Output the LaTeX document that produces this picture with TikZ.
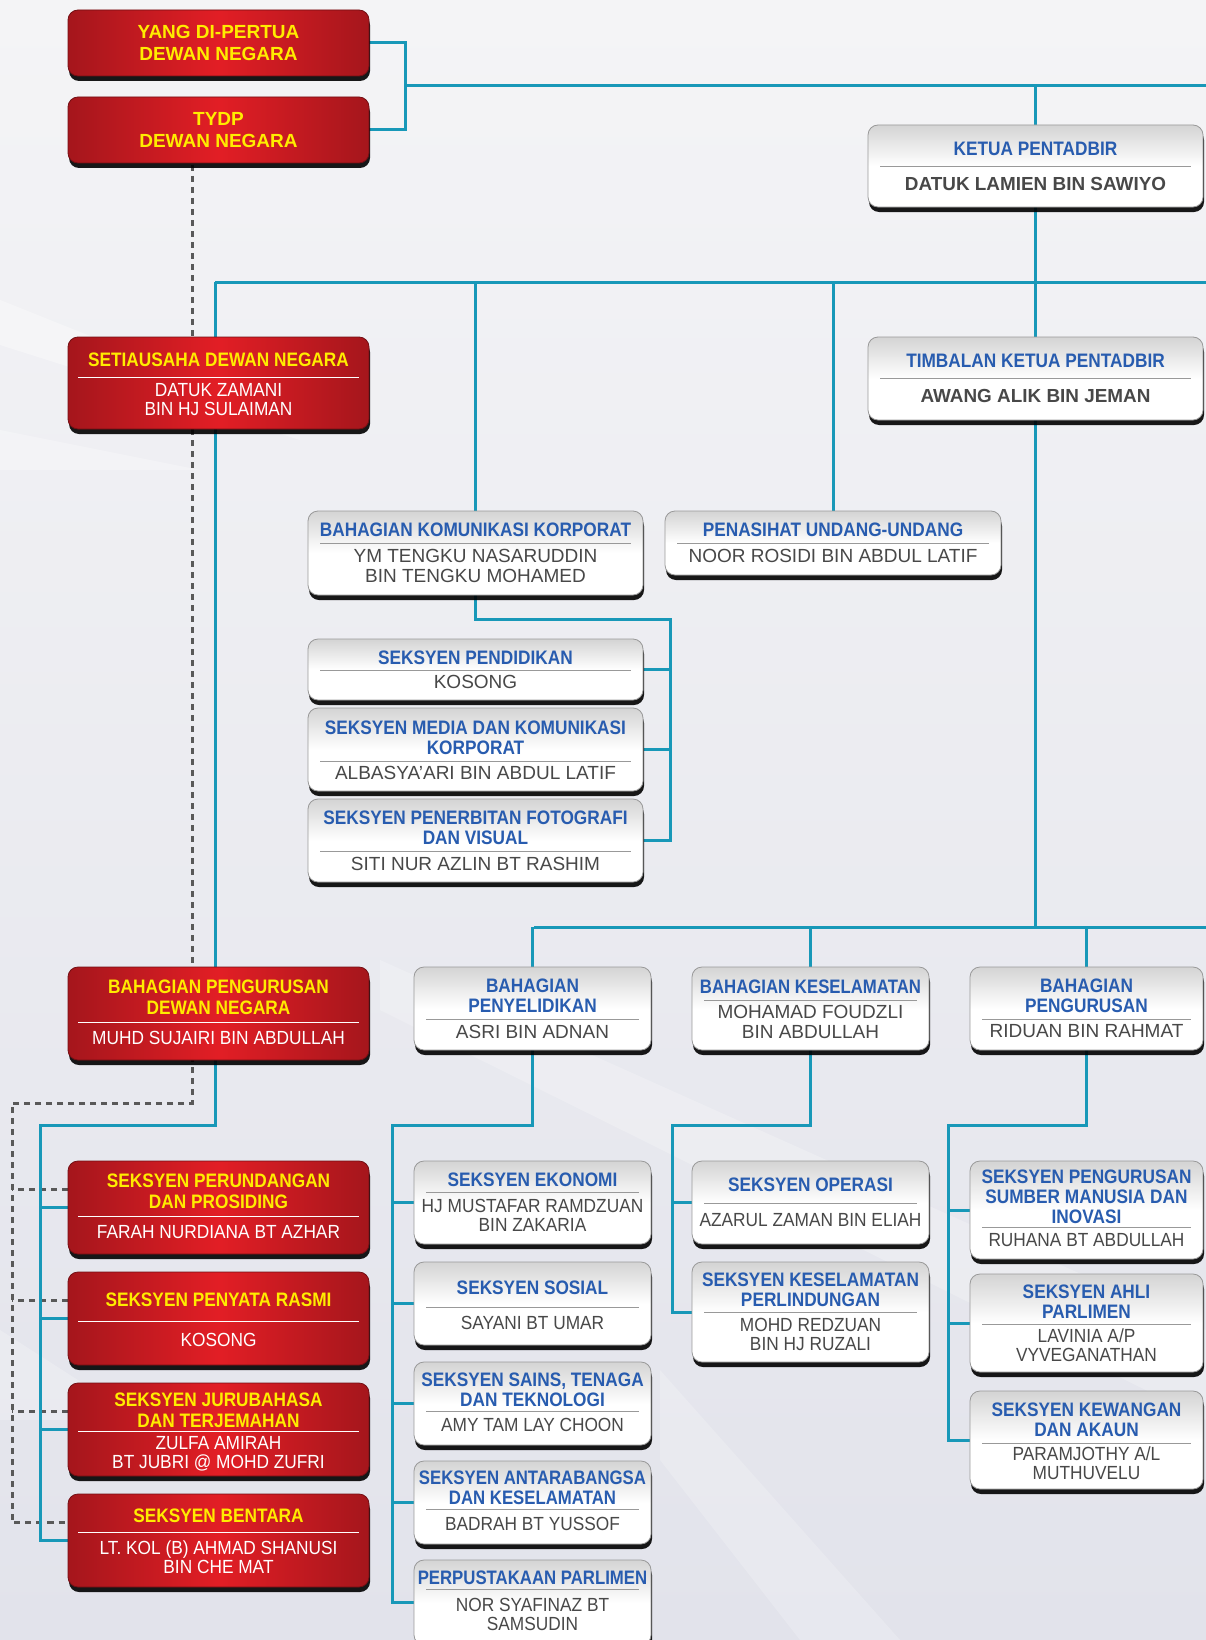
\documentclass[tikz,border=0pt]{standalone}
\usepackage{fontspec}
\setmainfont{Liberation Sans}
\newfontfamily\tfont[FakeStretch=0.885]{Liberation Sans}
\newfontfamily\tnar[FakeStretch=0.86]{Liberation Sans}
\newfontfamily\nfont[FakeStretch=0.91]{Liberation Sans}
\newcommand\nt{\tnar\bfseries}
\usetikzlibrary{shadows,calc}
\definecolor{tealc}{RGB}{24,152,184}
\definecolor{bluet}{RGB}{40,92,175}
\definecolor{grayn}{RGB}{72,72,72}
\definecolor{yel}{RGB}{255,236,0}
\definecolor{redc}{RGB}{226,30,37}
\definecolor{redd}{RGB}{165,22,28}
\definecolor{bga}{RGB}{244,244,246}
\definecolor{bgb}{RGB}{226,227,235}
\pgfdeclarelayer{bglayer}
\pgfdeclarelayer{linelayer}
\pgfsetlayers{bglayer,linelayer,main}
\tikzset{
 tl/.style={draw=tealc, line width=3pt},
 dl/.style={draw=black!65, line width=3pt, dash pattern=on 6pt off 5pt},
 boxbase/.style={rectangle, rounded corners=10pt, inner sep=0pt,
   drop shadow={shadow xshift=1pt, shadow yshift=-5pt, opacity=0.9, fill=black}},
 wboxst/.style={boxbase, draw=black!40, line width=0.8pt, top color=black!17, bottom color=white, middle color=white},
 rboxst/.style={boxbase, draw=redd!70!black, line width=0.8pt, left color=redd, right color=redd, middle color=redc},
 wdiv/.style={draw=black!40, line width=1pt},
 rdiv/.style={draw=white, line width=1pt},
 wtitle/.style={font=\tfont\bfseries\fontsize{19.5}{20}\selectfont, text=bluet, align=center, inner sep=0pt},
 wname/.style={font=\fontsize{19}{19.5}\selectfont, text=grayn, align=center, inner sep=0pt},
 wcond/.style={font=\nfont\fontsize{19}{19}\selectfont},
 wnameb/.style={font=\bfseries\fontsize{18.9}{19}\selectfont, text=grayn},
 rtitle/.style={font=\tfont\bfseries\fontsize{19.5}{21}\selectfont, text=yel, align=center, inner sep=0pt},
 rtitlebig/.style={font=\bfseries\fontsize{19}{21.5}\selectfont, text=yel, align=center, inner sep=0pt},
 rname/.style={font=\nfont\fontsize{19}{19}\selectfont, text=white, align=center, inner sep=0pt},
}
% name, x1, y1, x2, y2, ydiv, title, names, extra
\newcommand\wb[9]{%
 \node[wboxst, minimum width={(#4-#2)*1pt}, minimum height={(#5-#3)*1pt}] (#1) at ({(#2+#4)/2},{(#3+#5)/2}) {};
 \draw[wdiv] ({#2+12},#6) -- ({#4-12},#6);
 \node[wtitle] (#1t) at ({(#2+#4)/2},{(#3+#6)/2+3}) {#7};
 \node[wname,#9] (#1n) at ({(#2+#4)/2},{(#6+#5)/2-3}) {#8};}
\newcommand\rb[9]{%
 \node[rboxst, minimum width={(#4-#2)*1pt}, minimum height={(#5-#3)*1pt}] (#1) at ({(#2+#4)/2},{(#3+#5)/2}) {};
 \draw[rdiv] ({#2+10},#6) -- ({#4-10},#6);
 \node[rtitle] (#1t) at ({(#2+#4)/2},{(#3+#6)/2+3}) {#7};
 \node[rname,#9] (#1n) at ({(#2+#4)/2},{(#6+#5)/2-3}) {#8};}
\begin{document}
\begin{tikzpicture}[x=1pt,y=-1pt]
\useasboundingbox (0,0) rectangle (1206,1640);
\clip (0,0) rectangle (1206,1640);
\begin{pgfonlayer}{bglayer}
\fill[top color=bga, bottom color=bgb] (0,0) rectangle (1206,1640);
\fill[white, opacity=0.35] (0,300) -- (300,420) -- (300,440) -- (0,345) -- cycle;
\fill[white, opacity=0.3] (0,430) -- (200,470) -- (0,470) -- cycle;
\fill[white, opacity=0.22] (380,960) -- (1206,1330) -- (1206,1420) -- (380,1010) -- cycle;
\fill[white, opacity=0.22] (0,1330) -- (140,1420) -- (0,1420) -- cycle;
\fill[white, opacity=0.2] (660,1370) -- (900,1640) -- (800,1640) -- (660,1460) -- cycle;
\end{pgfonlayer}

% ---------- red boxes ----------
\node[rboxst, minimum width=301pt, minimum height=66pt, rtitlebig] (ydp) at (218.5,43) {YANG DI-PERTUA\\DEWAN NEGARA};
\node[rboxst, minimum width=301pt, minimum height=66pt, rtitlebig] (tydp) at (218.5,130) {TYDP\\DEWAN NEGARA};
\rb{setia}{68}{337}{369}{429}{377}{SETIAUSAHA DEWAN NEGARA}{DATUK ZAMANI\\BIN HJ SULAIMAN}{}
\rb{bpdn}{68}{967}{369}{1060}{1022}{BAHAGIAN PENGURUSAN\\DEWAN NEGARA}{MUHD SUJAIRI BIN ABDULLAH}{}
\rb{perund}{68}{1161}{369}{1254}{1216}{SEKSYEN PERUNDANGAN\\DAN PROSIDING}{FARAH NURDIANA BT AZHAR}{}
\rb{penyata}{68}{1272}{369}{1365}{1321}{SEKSYEN PENYATA RASMI}{KOSONG}{}
\rb{juru}{68}{1383}{369}{1476}{1431}{SEKSYEN JURUBAHASA\\DAN TERJEMAHAN}{ZULFA AMIRAH\\BT JUBRI @ MOHD ZUFRI}{yshift=-3pt}
\rb{bentara}{68}{1494}{369}{1587}{1532}{SEKSYEN BENTARA}{LT. KOL (B) AHMAD SHANUSI\\BIN CHE MAT}{yshift=-1pt}

% ---------- white boxes ----------
\wb{ketua}{868}{125}{1203}{207}{167}{KETUA PENTADBIR}{DATUK LAMIEN BIN SAWIYO}{wnameb}
\wb{timbalan}{868}{337}{1203}{420}{378}{TIMBALAN KETUA PENTADBIR}{AWANG ALIK BIN JEMAN}{wnameb}
\wb{bkk}{308}{511}{643}{595}{543}{BAHAGIAN KOMUNIKASI KORPORAT}{YM TENGKU NASARUDDIN\\BIN TENGKU MOHAMED}{}
\wb{penasihat}{665}{511}{1001}{575}{543}{PENASIHAT UNDANG-UNDANG}{NOOR ROSIDI BIN ABDUL LATIF}{}
\wb{pendidikan}{308}{639}{643}{700}{670}{SEKSYEN PENDIDIKAN}{KOSONG}{}
\wb{media}{308}{708}{643}{791}{761}{SEKSYEN MEDIA DAN KOMUNIKASI\\KORPORAT}{ALBASYA’ARI BIN ABDUL LATIF}{}
\wb{penerbitan}{308}{799}{643}{882}{851}{SEKSYEN PENERBITAN FOTOGRAFI\\DAN VISUAL}{SITI NUR AZLIN BT RASHIM}{}
\wb{penyelidikan}{414}{967}{651}{1050}{1019}{BAHAGIAN\\PENYELIDIKAN}{ASRI BIN ADNAN}{}
\wb{keselamatan}{692}{967}{929}{1050}{1000}{\nt BAHAGIAN KESELAMATAN}{MOHAMAD FOUDZLI\\BIN ABDULLAH}{}
\wb{pengurusan}{970}{967}{1203}{1050}{1019}{BAHAGIAN\\PENGURUSAN}{RIDUAN BIN RAHMAT}{}
\wb{ekonomi}{414}{1161}{651}{1244}{1192}{SEKSYEN EKONOMI}{HJ MUSTAFAR RAMDZUAN\\BIN ZAKARIA}{wcond}
\wb{sosial}{414}{1262}{651}{1345}{1307}{SEKSYEN SOSIAL}{SAYANI BT UMAR}{wcond}
\wb{sains}{414}{1362}{651}{1445}{1411}{SEKSYEN SAINS, TENAGA\\DAN TEKNOLOGI}{AMY TAM LAY CHOON}{wcond}
\wb{antara}{414}{1461}{651}{1544}{1509}{\nt SEKSYEN ANTARABANGSA\\\nt DAN KESELAMATAN}{BADRAH BT YUSSOF}{wcond}
\wb{perpus}{414}{1560}{651}{1645}{1589}{\nt PERPUSTAKAAN PARLIMEN}{NOR SYAFINAZ BT\\SAMSUDIN}{wcond}
\wb{operasi}{692}{1161}{929}{1244}{1203}{SEKSYEN OPERASI}{AZARUL ZAMAN BIN ELIAH}{wcond}
\wb{perlind}{692}{1262}{929}{1362}{1312}{SEKSYEN KESELAMATAN\\PERLINDUNGAN}{MOHD REDZUAN\\BIN HJ RUZALI}{wcond}
\wb{psm}{970}{1161}{1203}{1259}{1227}{SEKSYEN PENGURUSAN\\SUMBER MANUSIA DAN\\INOVASI}{RUHANA BT ABDULLAH}{wcond}
\wb{ahli}{970}{1274}{1203}{1372}{1324}{SEKSYEN AHLI\\PARLIMEN}{LAVINIA A/P\\VYVEGANATHAN}{wcond}
\wb{kewangan}{970}{1391}{1203}{1489}{1443}{SEKSYEN KEWANGAN\\DAN AKAUN}{PARAMJOTHY A/L\\MUTHUVELU}{wcond}

% ---------- connectors ----------
\begin{pgfonlayer}{linelayer}
\coordinate (j1) at (405,86);
\coordinate (topR) at (1210,86);
\coordinate (b2L) at (215,282);
\coordinate (b2R) at (1210,282);
\coordinate (k1) at (670,619);
\coordinate (b3L) at (534,927);
\coordinate (b3R) at (1210,927);
\coordinate (l1) at (40,1125);
\coordinate (d0) at (192,165);
\coordinate (d1) at (12,1103);
\coordinate (m1) at (392,1125);
\coordinate (s1) at (672,1125);
\coordinate (g1) at (948,1125);
\coordinate (dbent) at ([yshift=18pt]bentara.west);
% dashed line
\draw[dl] (d0) |- (d1) -- (d1 |- dbent) -- (dbent);
\foreach \n in {perund,penyata,juru}{
  \draw[dl] ([yshift=18pt]\n.west) -- ([yshift=18pt]\n.west -| d1);
}
% top
\draw[tl] (ydp.east) -| (j1) |- (tydp.east);
\draw[tl] (j1) -- (topR);
\draw[tl] (ketua.north) -- (ketua.north |- j1);
\draw[tl] (ketua.south) -- (timbalan.north);
\draw[tl] (b2L) -- (b2R);
\draw[tl] (b2L) -- (b2L |- bpdn.north);
\draw[tl] (bkk.north) -- (bkk.north |- b2L);
\draw[tl] (penasihat.north) -- (penasihat.north |- b2L);
% komunikasi
\draw[tl] (bkk.south) |- (k1) -- (k1 |- penerbitan.east) -- (penerbitan.east);
\draw[tl] (pendidikan.east) -- (pendidikan.east -| k1);
\draw[tl] (media.east) -- (media.east -| k1);
% timbalan bus
\draw[tl] (timbalan.south) -- (timbalan.south |- b3L);
\draw[tl] (b3L) -- (b3R);
\draw[tl] (penyelidikan.north) -- (penyelidikan.north |- b3L);
\draw[tl] (keselamatan.north) -- (keselamatan.north |- b3L);
\draw[tl] (pengurusan.north) -- (pengurusan.north |- b3L);
% left column
\draw[tl] (b2L |- bpdn.south) |- (l1) -- (l1 |- bentara.west) -- (bentara.west);
\foreach \n in {perund,penyata,juru}{
  \draw[tl] (\n.west) -- (\n.west -| l1);
}
% penyelidikan
\draw[tl] (penyelidikan.south) |- (m1) -- (m1 |- perpus.west) -- (perpus.west);
\foreach \n in {ekonomi,sosial,sains,antara}{
  \draw[tl] (\n.west) -- (\n.west -| m1);
}
% keselamatan
\draw[tl] (keselamatan.south) |- (s1) -- (s1 |- perlind.west) -- (perlind.west);
\draw[tl] (operasi.west) -- (operasi.west -| s1);
% pengurusan
\draw[tl] (pengurusan.south) |- (g1) -- (g1 |- kewangan.west) -- (kewangan.west);
\draw[tl] (psm.west) -- (psm.west -| g1);
\draw[tl] (ahli.west) -- (ahli.west -| g1);
\end{pgfonlayer}
\end{tikzpicture}
\end{document}
